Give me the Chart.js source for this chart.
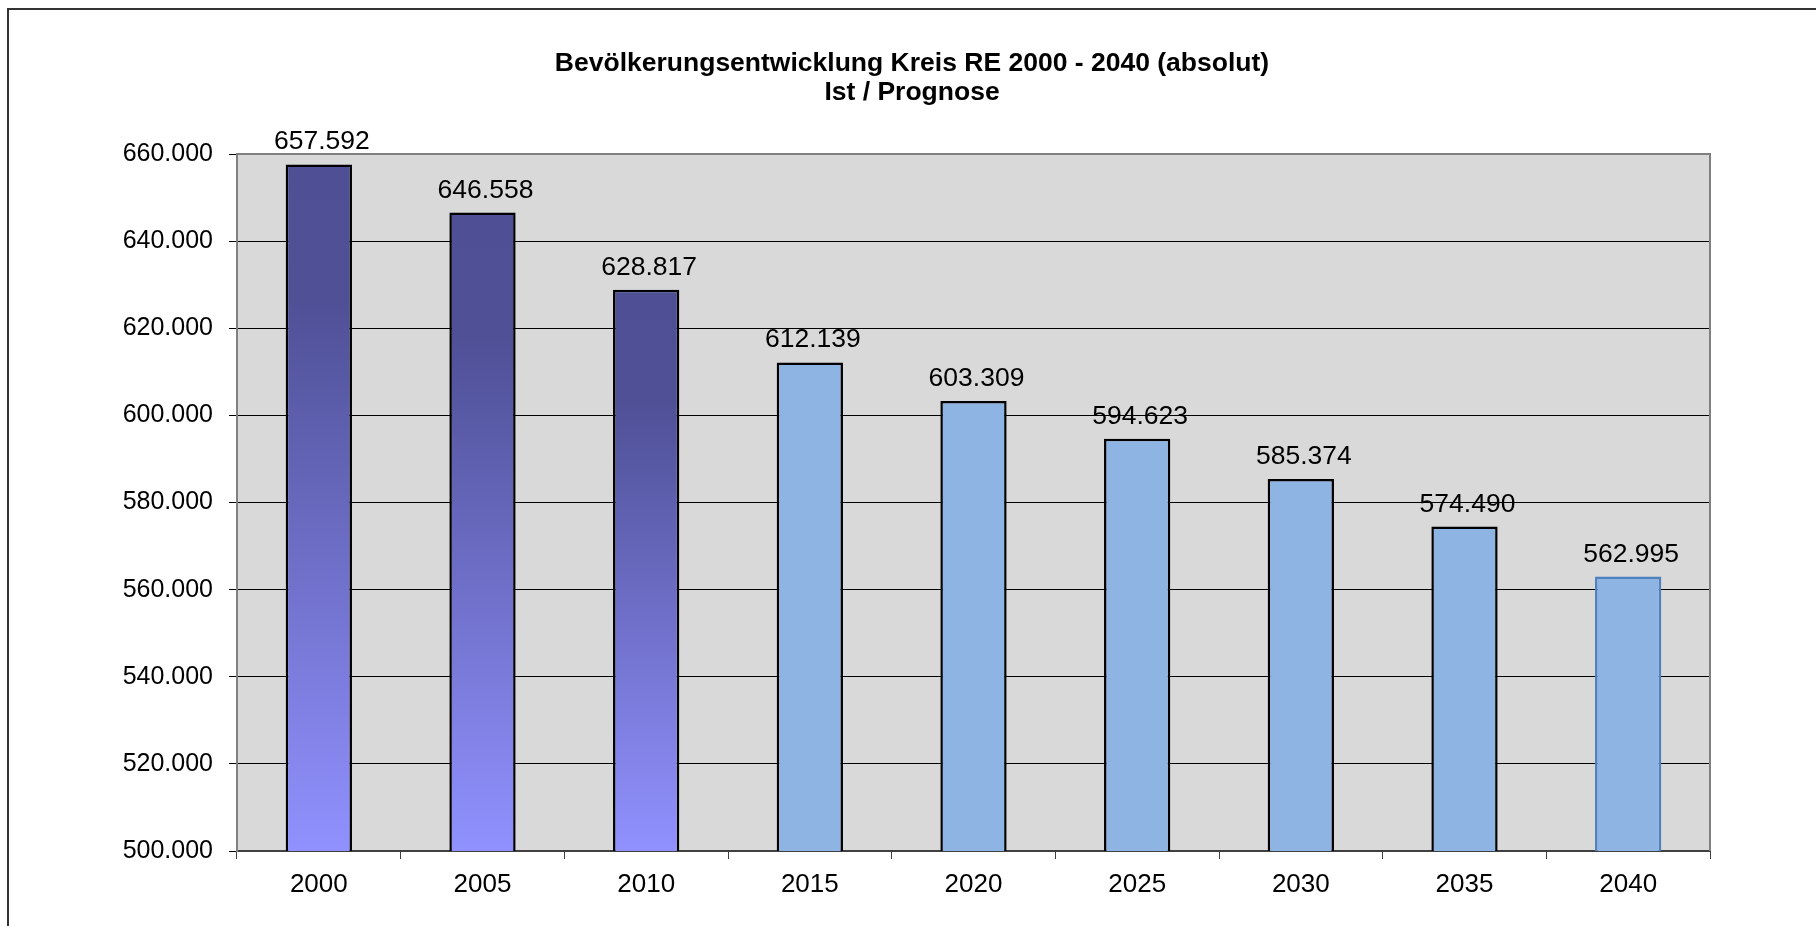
<!DOCTYPE html>
<html>
<head>
<meta charset="utf-8">
<script src="https://cdn.jsdelivr.net/npm/chart.js@4"></script>
<style>
html, body { margin: 0; padding: 0; background: #fff; }
#wrap { width: 1816px; height: 926px; }
</style>
</head>
<body>
<div id="wrap"><canvas id="chart" width="1816" height="926"></canvas></div>
<script>
// Daten
var years = ['2000', '2005', '2010', '2015', '2020', '2025', '2030', '2035', '2040'];
var population = [657592, 646558, 628817, 612139, 603309, 594623, 585374, 574490, 562995];
var istCount = 3; // 2000-2010 Ist, danach Prognose
var yMin = 500000;
var yMax = 660000;
var yStep = 20000;
var titleLines = ['Bevölkerungsentwicklung Kreis RE 2000 - 2040 (absolut)', 'Ist / Prognose'];

var FONT = 'Arial, "Liberation Sans", sans-serif';

function fmt(v) {
    return String(v).replace(/\B(?=(\d{3})+(?!\d))/g, '.');
}

function barFill(ctx) {
    var i = ctx.dataIndex;
    if (i >= istCount) return '#8EB4E3';
    var chart = ctx.chart;
    var area = chart.chartArea;
    if (!area) return '#6767BD';
    var top = chart.scales.y.getPixelForValue(population[i]);
    var g = chart.ctx.createLinearGradient(0, top, 0, area.bottom);
    g.addColorStop(0, '#4F4F95');
    g.addColorStop(0.2, '#4F5096');
    g.addColorStop(1, '#9191FF');
    return g;
}

var decor = {
    id: 'decor',
    beforeDraw: function(chart) {
        var c = chart.ctx, a = chart.chartArea;
        c.save();
        c.fillStyle = '#fff';
        c.fillRect(0, 0, chart.width, chart.height);
        c.fillStyle = '#D9D9D9';
        c.fillRect(a.left, a.top, a.right - a.left, a.bottom - a.top);
        // outer frame (only top + left visible)
        c.strokeStyle = '#333';
        c.lineWidth = 2;
        c.beginPath();
        c.moveTo(8, chart.height);
        c.lineTo(8, 9);
        c.lineTo(chart.width, 9);
        c.stroke();
        c.restore();
    },
    beforeDatasetsDraw: function(chart) {
        var c = chart.ctx, a = chart.chartArea;
        c.save();
        c.strokeStyle = '#808080';
        c.lineWidth = 2;
        c.beginPath();
        c.moveTo(a.left, a.top);
        c.lineTo(a.right, a.top);
        c.lineTo(a.right, a.bottom);
        c.stroke();
        c.restore();
    },
    afterDraw: function(chart) {
        var c = chart.ctx;
        c.save();
        c.fillStyle = '#000';
        c.textAlign = 'center';
        c.textBaseline = 'middle';
        c.font = 'bold 26.5px ' + FONT;
        c.fillText(titleLines[0], 912, 64);
        c.fillText(titleLines[1], 912, 93);

        // value labels
        c.font = '26.5px ' + FONT;
        c.textBaseline = 'alphabetic';
        var meta = chart.getDatasetMeta(0);
        meta.data.forEach(function(bar, i) {
            c.fillText(fmt(population[i]), bar.x + 3, bar.y - 15);
        });
        c.restore();
    }
};

new Chart(document.getElementById('chart'), {
    type: 'bar',
    data: {
        labels: years,
        datasets: [{
            data: population,
            backgroundColor: barFill,
            borderColor: function(ctx) { return ctx.dataIndex === years.length - 1 ? '#4F81BD' : '#000'; },
            borderWidth: 2.5,
            borderSkipped: false,
            categoryPercentage: 1,
            barPercentage: 0.405
        }]
    },
    options: {
        responsive: false,
        animation: false,
        devicePixelRatio: 1,
        layout: { padding: { top: 154, right: 106, left: 0, bottom: 0 } },
        plugins: {
            legend: { display: false },
            title: { display: false },
            tooltip: { enabled: false }
        },
        scales: {
            x: {
                grid: { offset: true, drawOnChartArea: false, drawTicks: true, tickLength: 8, color: '#404040' },
                border: { display: true, color: '#404040', width: 2 },
                ticks: { color: '#000', font: { family: FONT, size: 26 }, padding: 10 },
                afterFit: function(s) { s.height = 75; }
            },
            y: {
                min: yMin,
                max: yMax,
                grid: { color: '#000', lineWidth: 1, tickLength: 8 },
                border: { display: true, color: '#808080', width: 2 },
                ticks: {
                    stepSize: yStep,
                    color: '#000',
                    font: { family: FONT, size: 25 },
                    padding: 16,
                    callback: function(v) { return fmt(v); }
                },
                afterFit: function(s) { s.width = 237; }
            }
        }
    },
    plugins: [decor]
});
</script>
</body>
</html>
